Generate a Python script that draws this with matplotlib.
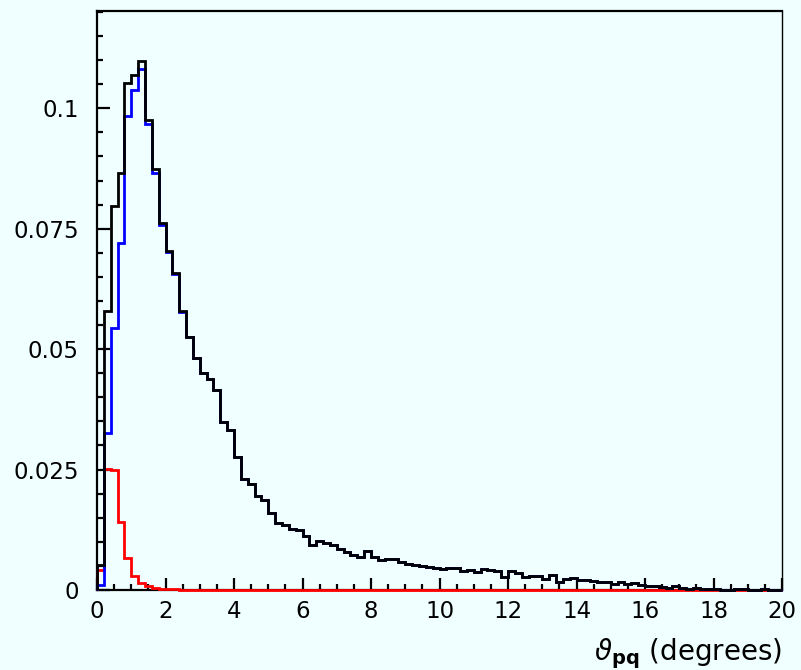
import numpy as np
import matplotlib.pyplot as plt
from matplotlib.ticker import MultipleLocator, FuncFormatter

# theta_pq histogram, 100 bins of 0.2 deg from 0 to 20
bin_edges = np.linspace(0, 20, 101)

total = [0.0051, 0.0579, 0.0797, 0.0865, 0.1052, 0.1070, 0.1098, 0.0975, 0.0873, 0.0761,
         0.0703, 0.0659, 0.0579, 0.0526, 0.0482, 0.0451, 0.0437, 0.0415, 0.0348, 0.0332,
         0.0277, 0.0230, 0.0220, 0.0195, 0.0187, 0.0159, 0.0140, 0.0135, 0.0127, 0.0124,
         0.0112, 0.0093, 0.0102, 0.0098, 0.0093, 0.0086, 0.0079, 0.0073, 0.0068, 0.0080,
         0.0069, 0.0062, 0.0064, 0.0064, 0.0058, 0.0055, 0.0052, 0.0050, 0.0048, 0.0046,
         0.0044, 0.0046, 0.0045, 0.0039, 0.0041, 0.0037, 0.0044, 0.0042, 0.0040, 0.0028,
         0.0039, 0.0035, 0.0028, 0.0030, 0.0030, 0.0022, 0.0031, 0.0017, 0.0022, 0.0024,
         0.0021, 0.0021, 0.0019, 0.0016, 0.0016, 0.0012, 0.0017, 0.0012, 0.0015, 0.0010,
         0.0009, 0.0009, 0.0007, 0.0004, 0.0008, 0.0004, 0.0002, 0.0004, 0.0002, 0.0003,
         0.0003, 0.0001, 0.0001, 0.0002, 0.0002, 0.0001, 0.0001, 0.0002, 0.0001, 0.0001]

blue_part = [0.0010, 0.0326, 0.0544, 0.0721, 0.0985, 0.1037, 0.1081, 0.0967, 0.0866, 0.0757,
             0.0701, 0.0657, 0.0578, 0.0525, 0.0481, 0.0450, 0.0437, 0.0415, 0.0348, 0.0332,
             0.0277, 0.0230, 0.0220, 0.0195, 0.0187, 0.0159, 0.0140, 0.0135, 0.0127, 0.0124,
             0.0112, 0.0093, 0.0102, 0.0098, 0.0093, 0.0086, 0.0079, 0.0073, 0.0068, 0.0080,
             0.0069, 0.0062, 0.0064, 0.0064, 0.0058, 0.0055, 0.0052, 0.0050, 0.0048, 0.0046,
             0.0044, 0.0046, 0.0045, 0.0039, 0.0041, 0.0037, 0.0044, 0.0042, 0.0040, 0.0028,
             0.0039, 0.0035, 0.0028, 0.0030, 0.0030, 0.0022, 0.0031, 0.0017, 0.0022, 0.0024,
             0.0021, 0.0021, 0.0019, 0.0016, 0.0016, 0.0012, 0.0017, 0.0012, 0.0015, 0.0010,
             0.0009, 0.0009, 0.0007, 0.0004, 0.0008, 0.0004, 0.0002, 0.0004, 0.0002, 0.0003,
             0.0003, 0.0001, 0.0001, 0.0002, 0.0002, 0.0001, 0.0001, 0.0002, 0.0001, 0.0001]

red_part = [0.0041, 0.0252, 0.0250, 0.0142, 0.0066, 0.0030, 0.0014, 0.0008, 0.0005, 0.0003,
            0.0002, 0.0002, 0.0001, 0.0001, 0.0001, 0.0001, 0.0, 0.0, 0.0, 0.0,
            0.0, 0.0, 0.0, 0.0, 0.0, 0.0, 0.0, 0.0, 0.0, 0.0,
            0.0, 0.0, 0.0, 0.0, 0.0, 0.0, 0.0, 0.0, 0.0, 0.0,
            0.0, 0.0, 0.0, 0.0, 0.0, 0.0, 0.0, 0.0, 0.0, 0.0,
            0.0, 0.0, 0.0, 0.0, 0.0, 0.0, 0.0, 0.0, 0.0, 0.0,
            0.0, 0.0, 0.0, 0.0, 0.0, 0.0, 0.0, 0.0, 0.0, 0.0,
            0.0, 0.0, 0.0, 0.0, 0.0, 0.0, 0.0, 0.0, 0.0, 0.0,
            0.0, 0.0, 0.0, 0.0, 0.0, 0.0, 0.0, 0.0, 0.0, 0.0,
            0.0, 0.0, 0.0, 0.0, 0.0, 0.0, 0.0, 0.0, 0.0, 0.0]

bg = '#f0ffff'
fig = plt.figure(figsize=(8.01, 6.70), dpi=100, facecolor=bg)
ax = fig.add_axes([0.1211, 0.1194, 0.8552, 0.8642])
ax.set_facecolor(bg)

ax.stairs(red_part, bin_edges, color='red', lw=2.0, zorder=3, clip_on=False)
ax.stairs(blue_part, bin_edges, color='blue', lw=2.0, zorder=3.1, clip_on=False)
ax.stairs(total, bin_edges, color='black', lw=2.0, zorder=3.2, clip_on=False)

ax.set_xlim(0, 20)
ax.set_ylim(0, 0.1202)

ax.xaxis.set_major_locator(MultipleLocator(2))
ax.xaxis.set_minor_locator(MultipleLocator(0.5))
ax.yaxis.set_major_locator(MultipleLocator(0.025))
ax.yaxis.set_minor_locator(MultipleLocator(0.005))
ax.yaxis.set_major_formatter(FuncFormatter(lambda v, p: '{:g}'.format(round(v, 4))))

ax.tick_params(which='both', direction='in', top=False, right=False, width=1.6, labelsize=16.5)
ax.tick_params(which='major', length=9)
ax.tick_params(which='minor', length=4.5)
ax.tick_params(axis='y', pad=13)
ax.tick_params(axis='x', pad=7)

for s in ['left', 'bottom', 'top']:
    ax.spines[s].set_linewidth(1.6)
ax.spines['right'].set_linewidth(1.0)

ax.set_xlabel(r'$\vartheta_{\mathbf{pq}}$ (degrees)', fontsize=20, loc='right', labelpad=10)

plt.savefig('out.png', dpi=100, facecolor=bg)
